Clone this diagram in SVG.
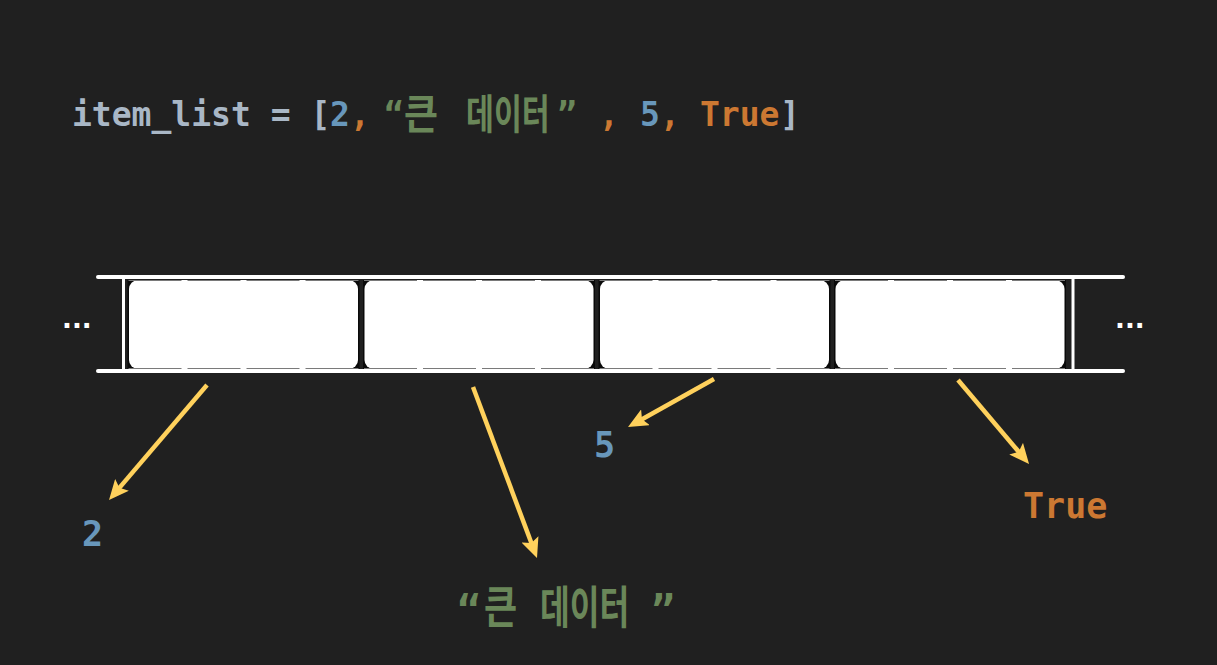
<svg xmlns="http://www.w3.org/2000/svg" width="1217" height="665" viewBox="0 0 1217 665">
  <defs>
    <style>
      .mono { font-family: "DejaVu Sans Mono", "Liberation Mono", "Noto Sans CJK KR", monospace; font-weight: bold; }
      .kr { font-family: "Noto Sans CJK KR", "DejaVu Sans", sans-serif; font-weight: bold; }
      .t { font-size: 33px; }
      .plain { fill: #A9B7C6; }
      .num { fill: #6897BB; }
      .kw { fill: #CC7832; }
      .str { fill: #6A8759; }
      .rail { stroke: #ffffff; stroke-width: 4; stroke-linecap: round; fill: none; }
      .post { stroke: #ffffff; stroke-width: 3; fill: none; }
      .slotbg { fill: #0a0a0a; }
      .slotfg { fill: #ffffff; }
      .byte { stroke: #7a7a7a; stroke-width: 1; fill: none; stroke-dasharray: 53 6; }
      .arrow { stroke: #FFD15C; stroke-width: 4.5; fill: none; marker-end: url(#head); }
      .dots { font-family: "DejaVu Sans", sans-serif; font-weight: bold; font-size: 26px; fill: #ffffff; }
    </style>
    <marker id="head" viewBox="0 0 20 18" refX="8" refY="9" markerWidth="20" markerHeight="18" markerUnits="userSpaceOnUse" orient="auto">
      <path d="M0,0 L20,9 L0,18 L4,9 Z" fill="#FFD15C"/>
    </marker>
  </defs>

  <rect x="0" y="0" width="1217" height="665" fill="#202020"/>

  <g id="title">
    <text class="mono t plain" x="72" y="126">item_list = [</text>
    <text class="mono t num" x="330" y="126">2</text>
    <text class="mono t kw" x="350" y="126">,</text>
    <text class="mono t str" x="384" y="126">“</text>
    <text class="kr str" font-size="41" transform="translate(404,129) scale(0.9,1)">큰</text>
    <text class="kr str" font-size="41" transform="translate(466,129) scale(0.74,1)">데이터</text>
    <text class="mono t str" x="557" y="126">”</text>
    <text class="mono t kw" x="599" y="126">,</text>
    <text class="mono t num" x="640" y="126">5</text>
    <text class="mono t kw" x="660" y="126">,</text>
    <text class="mono t kw" x="700" y="126">True</text>
    <text class="mono t plain" x="780" y="126">]</text>
  </g>

  <g id="memory">
    <line class="rail" x1="98" y1="277" x2="1123" y2="277"/>
    <line class="rail" x1="98" y1="371" x2="1123" y2="371"/>
    <line class="post" x1="123.5" y1="277" x2="123.5" y2="371"/>
    <line class="post" x1="1073" y1="277" x2="1073" y2="371"/>
    <text class="dots" x="62" y="328">...</text>
    <text class="dots" x="1115" y="328">...</text>
  </g>

  <g id="slot1">
    <rect class="slotbg" x="127.5" y="280" width="232" height="89"/>
    <rect class="slotfg" x="129" y="280" width="229" height="89" rx="9"/>
    <line class="byte" x1="128.5" y1="280.5" x2="359" y2="280.5"/>
    <line class="byte" x1="128.5" y1="368.5" x2="359" y2="368.5"/>
  </g>
  <g id="slot2">
    <rect class="slotbg" x="363" y="280" width="232" height="89"/>
    <rect class="slotfg" x="364.5" y="280" width="229" height="89" rx="9"/>
    <line class="byte" x1="364" y1="280.5" x2="594.5" y2="280.5"/>
    <line class="byte" x1="364" y1="368.5" x2="594.5" y2="368.5"/>
  </g>
  <g id="slot3">
    <rect class="slotbg" x="598.5" y="280" width="232" height="89"/>
    <rect class="slotfg" x="600" y="280" width="229" height="89" rx="9"/>
    <line class="byte" x1="599.5" y1="280.5" x2="830" y2="280.5"/>
    <line class="byte" x1="599.5" y1="368.5" x2="830" y2="368.5"/>
  </g>
  <g id="slot4">
    <rect class="slotbg" x="834" y="280" width="232" height="89"/>
    <rect class="slotfg" x="835.5" y="280" width="229" height="89" rx="9"/>
    <line class="byte" x1="835" y1="280.5" x2="1065.5" y2="280.5"/>
    <line class="byte" x1="835" y1="368.5" x2="1065.5" y2="368.5"/>
  </g>

  <g id="connectors">
    <line class="arrow" x1="207" y1="385" x2="116.8" y2="490.9"/>
    <line class="arrow" x1="473" y1="387" x2="532.8" y2="546.8"/>
    <line class="arrow" x1="714" y1="379" x2="638.5" y2="421.2"/>
    <line class="arrow" x1="958" y1="380" x2="1021.3" y2="454.8"/>
  </g>

  <g id="label-2">
    <text class="mono num" font-size="35" x="82" y="546">2</text>
  </g>
  <g id="label-5">
    <text class="mono num" font-size="35" x="594" y="457">5</text>
  </g>
  <g id="label-true">
    <text class="mono kw" font-size="35" x="1023" y="518">True</text>
  </g>
  <g id="label-str">
    <text class="mono str" font-size="40" x="457" y="624">“</text>
    <text class="kr str" font-size="45" transform="translate(484,624) scale(0.8,1)">큰</text>
    <text class="kr str" font-size="45" transform="translate(540,624) scale(0.72,1)">데이터</text>
    <text class="mono str" font-size="40" x="651" y="624">”</text>
  </g>
</svg>
